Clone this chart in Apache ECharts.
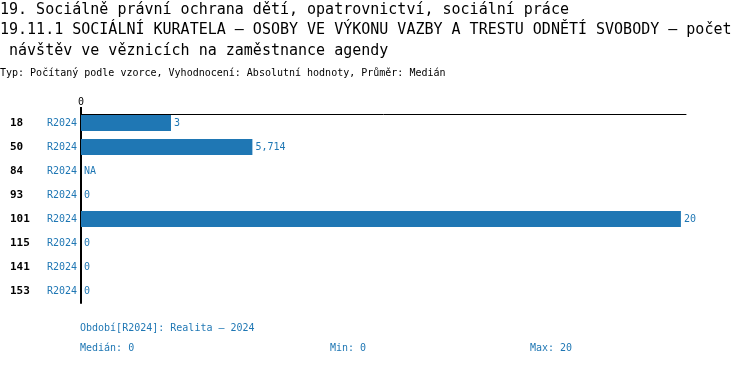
<!DOCTYPE html>
<html><head><meta charset="utf-8">
<script src="https://cdn.jsdelivr.net/npm/echarts@6/dist/echarts.min.js"></script>
<style>html,body{margin:0;padding:0;background:#fff}#c{width:750px;height:366px}</style>
</head><body><div id="c"></div>
<script>
const titleLines = [
  "19. Sociálně právní ochrana dětí, opatrovnictví, sociální práce",
  "19.11.1 SOCIÁLNÍ KURATELA – OSOBY VE VÝKONU VAZBY A TRESTU ODNĚTÍ SVOBODY – počet",
  " návštěv ve věznicích na zaměstnance agendy"
];
const subtitle = "Typ: Počítaný podle vzorce, Vyhodnocení: Absolutní hodnoty, Průměr: Medián";
const categories = ["18", "50", "84", "93", "101", "115", "141", "153"];
const periods = ["R2024", "R2024", "R2024", "R2024", "R2024", "R2024", "R2024", "R2024"];
const values = [3, 5.714, null, 0, 20, 0, 0, 0];
const xTicks = [0];
const periodNote = "Období[R2024]: Realita – 2024";

const MONO = "'DejaVu Sans Mono', monospace";
const BLUE = "#1f77b4";
const fmt = v => String(v).replace('.', ',');
const known = values.filter(v => v != null).slice().sort((a, b) => a - b);
const median = known.length % 2 ? known[(known.length - 1) / 2] : (known[known.length / 2 - 1] + known[known.length / 2]) / 2;
const minV = known[0], maxV = known[known.length - 1];

const t = (text, left, top, size, lh, color) => ({
  text, left, top, padding: 0,
  textStyle: { fontFamily: MONO, fontSize: size, fontWeight: 'normal', color, lineHeight: lh }
});

const chart = echarts.init(document.getElementById('c'));
chart.setOption({
  animation: false,
  title: [
    t(titleLines[0], 0, 0, 15, 20, '#000'),
    t(titleLines[1], 0, 20, 15, 20, '#000'),
    t(titleLines[2], 0, 41, 15, 20, '#000'),
    t(subtitle, 0, 67, 10, 12, '#000'),
    t(periodNote, 80, 322, 10, 12, BLUE),
    t('Medián: ' + fmt(median), 80, 342, 10, 12, BLUE),
    t('Min: ' + fmt(minV), 330, 342, 10, 12, BLUE),
    t('Max: ' + fmt(maxV), 530, 342, 10, 12, BLUE)
  ],
  grid: { left: 81, top: 111, width: 605, height: 192, containLabel: false },
  xAxis: {
    type: 'value', position: 'top', min: 0, max: 20.17, offset: -3,
    axisLine: { show: true, lineStyle: { color: '#000', width: 1 } },
    axisTick: { show: true, customValues: xTicks, length: 6, lineStyle: { color: '#000', width: 2 } },
    axisLabel: { customValues: xTicks, fontFamily: MONO, fontSize: 10, color: '#000', margin: 7 },
    splitLine: { show: false }
  },
  yAxis: {
    type: 'category', inverse: true, data: categories,
    axisLine: { show: true, symbol: ['none', 'rect'], symbolSize: [2, 8], lineStyle: { color: '#000', width: 2 } },
    axisTick: { show: false },
    axisLabel: {
      margin: 4,
      formatter: (v, i) => '{a|' + v + '}{b|' + periods[i] + '}',
      rich: {
        a: { fontFamily: MONO, fontSize: 11, fontWeight: 'bold', color: '#000', width: 37, align: 'left' },
        b: { fontFamily: MONO, fontSize: 10, color: BLUE }
      }
    }
  },
  series: [{
    type: 'bar', barWidth: 16,
    data: values.map(v => v == null ? { value: 0, label: { formatter: 'NA' } } : v),
    itemStyle: { color: BLUE },
    label: {
      show: true, position: 'right', distance: 3,
      fontFamily: MONO, fontSize: 10, color: BLUE,
      formatter: p => fmt(p.value)
    }
  }]
});
</script></body></html>
